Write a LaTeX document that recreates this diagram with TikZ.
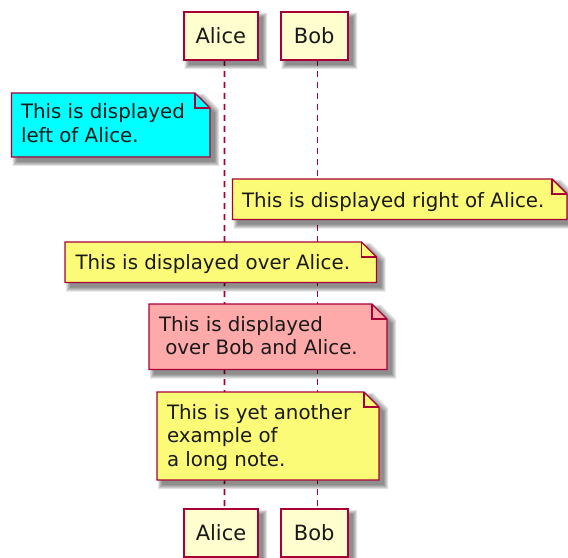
\documentclass[tikz,border=0pt]{standalone}
\usepackage{fontspec}
\setmainfont{DejaVu Sans}
\definecolor{umlred}{HTML}{A80036}
\definecolor{partfill}{HTML}{FEFECE}
\definecolor{noteyellow}{HTML}{FBFB77}
\definecolor{noteaqua}{HTML}{00FFFF}
\definecolor{notepink}{HTML}{FFAAAA}
\pgfdeclarelayer{bg}
\pgfsetlayers{bg,main}
\newcommand\mynotefont{\fontsize{19.8bp}{23.3bp}\selectfont}
\newcommand\mypartfont{\fontsize{21bp}{25bp}\selectfont}
% x1 y1 x2 y2 fold
\newcommand\umlshadow[5]{%
  \foreach \r in {0,1,2,3,4}{%
    \fill[black,opacity=0.11]
      ({#1+5-\r},{#2+5-\r}) -- ({#3-#5+5+\r},{#2+5-\r}) -- ({#3+5+\r},{#2+#5+5-\r})
      -- ({#3+5+\r},{#4+5+\r}) -- ({#1+5-\r},{#4+5+\r}) -- cycle;
  }}
% x1 y1 x2 y2 fold colour
\newcommand\umlnote[6]{%
  \umlshadow{#1}{#2}{#3}{#4}{#5}
  \filldraw[notebox,fill=#6] (#1,#2) -- ({#3-#5},#2) -- (#3,{#2+#5}) -- (#3,#4) -- (#1,#4) -- cycle;
  \draw[notebox] ({#3-#5},#2) -- ({#3-#5},{#2+#5}) -- (#3,{#2+#5});
}
\tikzset{
  notebox/.style={draw=umlred, line width=1.4bp, line join=miter},
  notetext/.style={anchor=north west, inner sep=0pt, outer sep=0pt, align=left, font=\mynotefont, text=black!90},
  partbox/.style={draw=umlred, fill=partfill, line width=2bp, minimum height=48bp, inner sep=0pt, outer sep=0pt, font=\mypartfont, text=black!90},
  lifeline/.style={draw=umlred, line width=1.6bp, dash pattern=on 6bp off 5bp},
}
\begin{document}
\begin{tikzpicture}[x=1bp,y=-1bp]
\useasboundingbox (0,0) rectangle (568,558);
% participants
\umlshadow{183.5}{12}{258}{60}{0}
\umlshadow{280.5}{12}{348}{60}{0}
\umlshadow{184}{509}{258}{557}{0}
\umlshadow{280.5}{509}{348}{557}{0}
\node[partbox, minimum width=74.5bp] (aliceTop) at (220.75,36) {Alice};
\node[partbox, minimum width=67.5bp] (bobTop) at (314.25,36) {Bob};
\node[partbox, minimum width=74bp] (aliceBot) at (221,533) {Alice};
\node[partbox, minimum width=67.5bp] (bobBot) at (314.25,533) {Bob};
% lifelines
\begin{pgfonlayer}{bg}
\draw[lifeline] ([xshift=3.75bp]aliceTop.south) -- ([xshift=3.5bp]aliceBot.north);
\draw[lifeline] ([xshift=3.25bp]bobTop.south) -- ([xshift=3.25bp]bobBot.north);
\end{pgfonlayer}
% notes
\umlnote{11.5}{93}{210}{157}{15}{noteaqua}
\node[notetext] (n1) at (21,102.5) {\strut This is displayed\\left of Alice.};
\umlnote{232.5}{179}{567}{219.5}{15}{noteyellow}
\node[notetext] (n2) at (242,190.7) {\strut This is displayed right of Alice.};
\umlnote{65}{242}{376.5}{282.5}{15}{noteyellow}
\node[notetext] (n3) at (75.5,252.7) {\strut This is displayed over Alice.};
\umlnote{149}{304}{387}{369.5}{15}{notepink}
\node[notetext] (n4) at (159,315.2) {\strut This is displayed\\\hspace*{0.318em}over Bob and Alice.};
\umlnote{157}{392}{379}{480}{15}{noteyellow}
\node[notetext] (n5) at (167,403.2) {\strut This is yet another\\example of\\a long note.};
\end{tikzpicture}
\end{document}
